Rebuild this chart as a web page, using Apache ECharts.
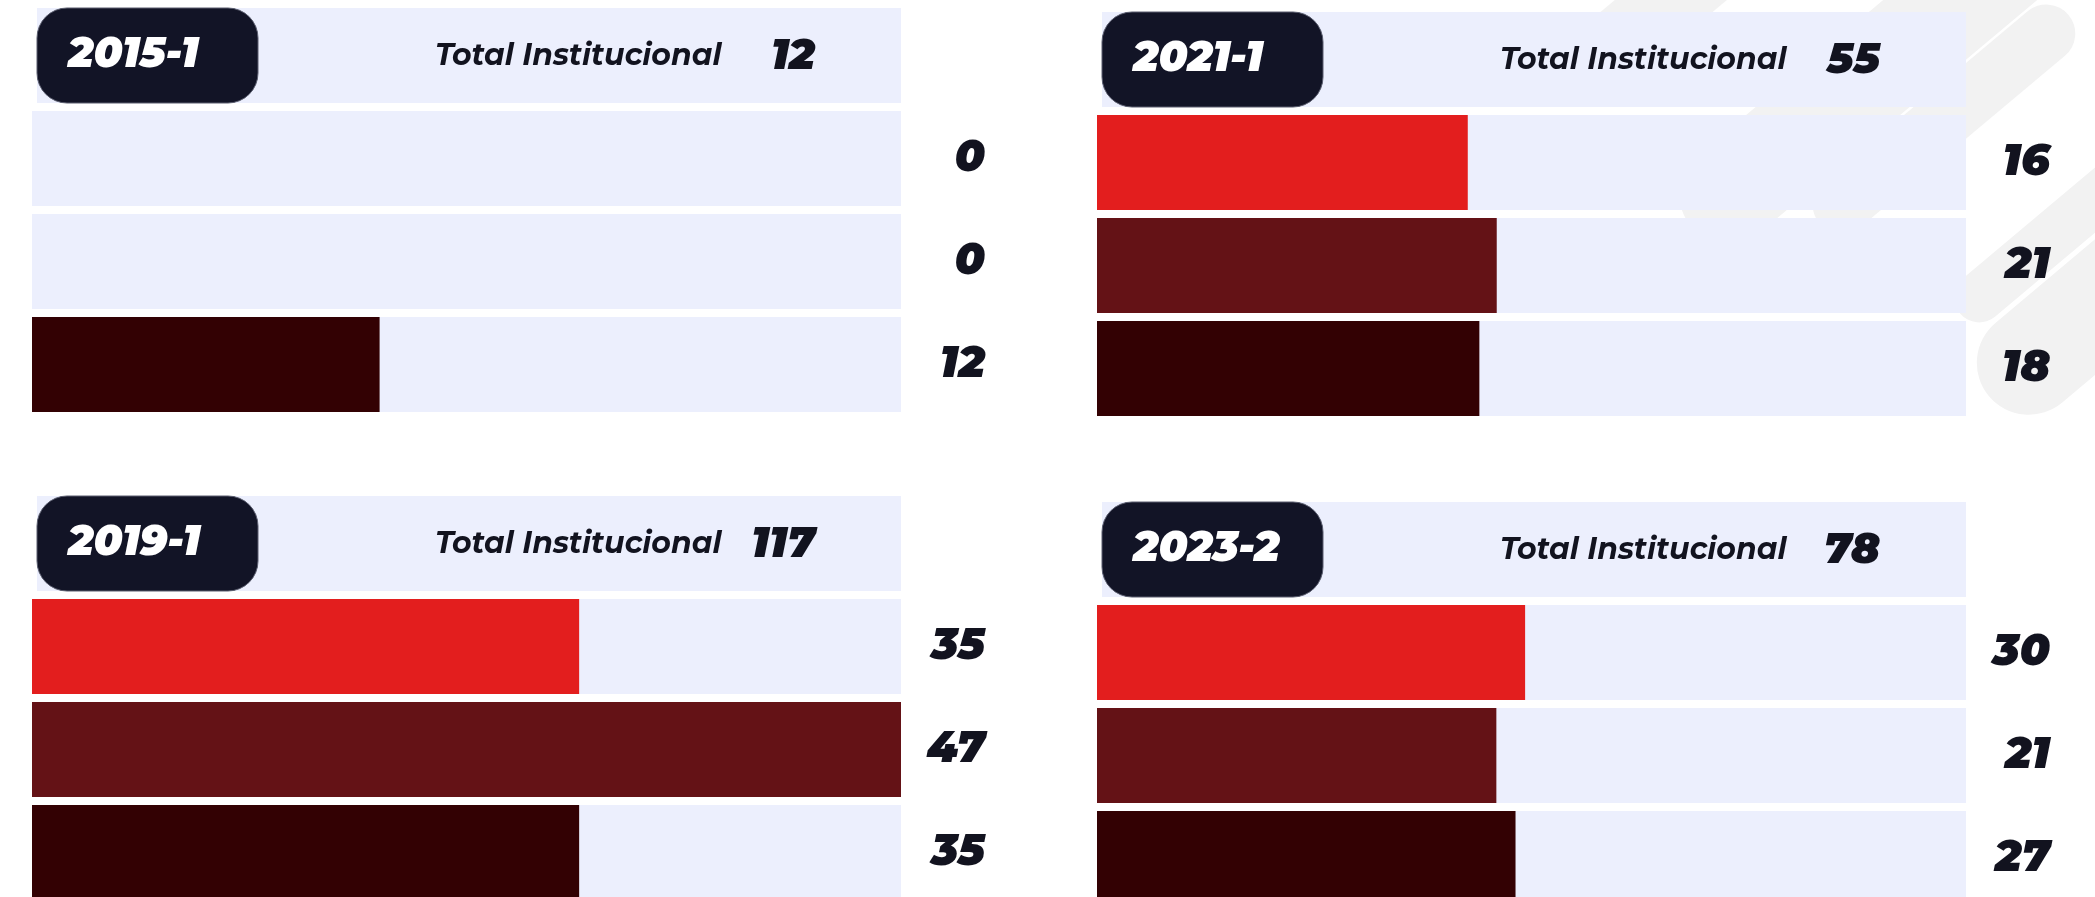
<!DOCTYPE html>
<html>
<head>
<meta charset="utf-8">
<script src="https://cdn.jsdelivr.net/npm/echarts@6/dist/echarts.min.js"></script>
<style>
  html, body { margin: 0; padding: 0; background: #fff; }
  #main { width: 2095px; height: 897px; }
</style>
</head>
<body>
<div id="main"></div>
<script>
// datos de cada periodo (tres grupos por tarjeta)
const grupos = ['Grupo 1', 'Grupo 2', 'Grupo 3'];
const periodos = ['2015-1', '2021-1', '2019-1', '2023-2'];
const valores2015 = [0, 0, 12];
const valores2021 = [16, 21, 18];
const valores2019 = [35, 47, 35];
const valores2023 = [30, 21, 27];
const etiquetaTotal = 'Total Institucional';

const coloresBarra = ['#E31E1E', '#641216', '#330103'];
const colorPista = '#ECEFFD';
const colorTexto = '#12131F';
const fuente = "Montserrat, Lato, 'Open Sans', sans-serif";

// posicion de cada tarjeta y rango de su eje
const paneles = [
  { periodo: periodos[0], valores: valores2015, left: 32,   top: 107, min: 0,    max: 30 },
  { periodo: periodos[1], valores: valores2021, left: 1097, top: 111, min: -48,  max: 102 },
  { periodo: periodos[2], valores: valores2019, left: 32,   top: 595, min: 14.6, max: 47 },
  { periodo: periodos[3], valores: valores2023, left: 1097, top: 601, min: -104, max: 168 }
];
const anchoPista = 869;
const altoFila = 95;

// franjas grises de fondo (n = distancia normal, s = a lo largo)
const franjas = [
  [1074, 1180, 1600, 72],
  [1260, 1150, 1700, 99],
  [1341, 1250, 1575, 58],
  [1500, 1300, 1750, 50],
  [1582, 1269, 1800, 104]
];

const chart = echarts.init(document.getElementById('main'));

let grid = [], xAxis = [], yAxis = [], series = [], graficos = [];

const ang = 40 * Math.PI / 180;
franjas.forEach(function (f) {
  let n = f[0], sc = (f[1] + f[2]) / 2, L = f[2] - f[1], w = f[3];
  let cx = Math.sin(ang) * n + Math.cos(ang) * sc;
  let cy = Math.cos(ang) * n - Math.sin(ang) * sc;
  graficos.push({
    type: 'rect', x: cx, y: cy, rotation: ang, z: -10,
    shape: { x: -L / 2, y: -w / 2, width: L, height: w, r: w / 2 },
    style: { fill: '#F2F2F2' }
  });
});

paneles.forEach(function (p, k) {
  grid.push({
    left: p.left, top: p.top, width: anchoPista, height: 309,
    containLabel: false, outerBoundsMode: 'none'
  });
  xAxis.push({ type: 'value', gridIndex: k, min: p.min, max: p.max, startValue: p.min, show: false });
  yAxis.push({ type: 'category', gridIndex: k, data: grupos, inverse: true, show: false });
  yAxis.push({
    type: 'category', gridIndex: k, position: 'right', inverse: true,
    data: p.valores.map(function (v) { return String(v); }),
    axisLine: { show: false }, axisTick: { show: false }, splitLine: { show: false },
    axisLabel: {
      align: 'right', margin: 84, color: colorTexto, fontSize: 44,
      fontStyle: 'italic', fontWeight: 900, fontFamily: fuente
    }
  });
  series.push({
    type: 'bar', xAxisIndex: k, yAxisIndex: k * 2, barWidth: altoFila,
    showBackground: true, backgroundStyle: { color: colorPista },
    data: p.valores.map(function (v, i) {
      return { value: v, itemStyle: { color: coloresBarra[i] } };
    }),
    silent: true
  });

  // cabecera: banda, etiqueta del periodo y total
  let yCab = p.top - 99;
  let total = p.valores.reduce(function (a, b) { return a + b; }, 0);
  graficos.push({
    type: 'rect', z: 1,
    shape: { x: p.left + 5, y: yCab, width: anchoPista - 5, height: altoFila },
    style: { fill: colorPista }
  });
  graficos.push({
    type: 'rect', z: 2,
    shape: { x: p.left + 5, y: yCab, width: 221, height: altoFila, r: 30 },
    style: { fill: '#121426', stroke: '#5a5d6e', lineWidth: 1 }
  });
  graficos.push({
    type: 'text', z: 3, x: p.left + 36, y: yCab + 47,
    style: {
      text: p.periodo, fill: '#fff', font: 'italic 900 42px ' + fuente,
      verticalAlign: 'middle', align: 'left'
    }
  });
  graficos.push({
    type: 'text', z: 3, x: p.left + 403, y: yCab + 48,
    style: {
      text: etiquetaTotal, fill: colorTexto, font: 'italic bold 30px ' + fuente,
      verticalAlign: 'middle', align: 'left'
    }
  });
  graficos.push({
    type: 'text', z: 3, x: p.left + 783, y: yCab + 48,
    style: {
      text: String(total), fill: colorTexto, font: 'italic 900 43px ' + fuente,
      verticalAlign: 'middle', align: 'right'
    }
  });
});

chart.setOption({
  backgroundColor: '#fff',
  animation: false,
  grid: grid,
  xAxis: xAxis,
  yAxis: yAxis,
  series: series,
  graphic: { elements: graficos }
});
</script>
</body>
</html>
